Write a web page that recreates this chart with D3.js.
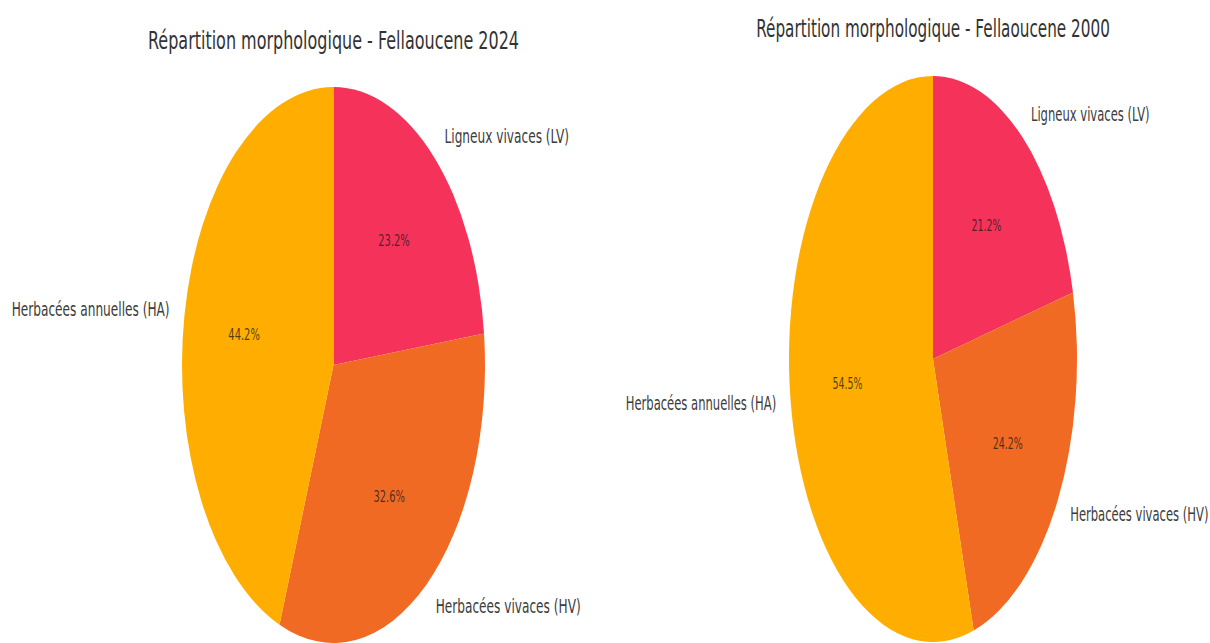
<!DOCTYPE html>
<html>
<head>
<meta charset="utf-8">
<script src="https://cdn.jsdelivr.net/npm/d3@7"></script>
<style>
  body { margin: 0; background: #fff; }
  svg { display: block; font-family: "DejaVu Sans", sans-serif; }
</style>
</head>
<body>
<svg id="chart" width="1210" height="643"></svg>
<script>
var categories = ["Ligneux vivaces (LV)", "Herbacées vivaces (HV)", "Herbacées annuelles (HA)"];
var values2024 = [23.2, 32.6, 44.2];
var values2000 = [21.2, 24.2, 54.5];
var titles = ["Répartition morphologique - Fellaoucene 2024", "Répartition morphologique - Fellaoucene 2000"];
var colors = ["#f5325a", "#f16a24", "#ffae00"];

// each pie is squashed, like the picture: own center, radii, text squeeze
var panels = [
    { values: values2024, title: titles[0], cx: 333.5, cy: 365, rx: 151.5, ry: 278, tsx: 0.64, titleY: 41 },
    { values: values2000, title: titles[1], cx: 933, cy: 359, rx: 144, ry: 283, tsx: 0.61, titleY: 29 }
];

var R = 100;
var svg = d3.select('#chart');
var pie = d3.pie().value(function (d) { return d; }).sort(null);
var arc = d3.arc().innerRadius(0).outerRadius(R);

function addText(g, x, y, sx, txt, size, anchor, fill) {
    g.append('g')
        .attr('transform', 'translate(' + x + ',' + y + ') scale(' + sx + ',1)')
        .append('text')
        .attr('text-anchor', anchor)
        .attr('dominant-baseline', 'central')
        .style('font-size', size + 'px')
        .attr('fill', fill)
        .text(txt);
}

panels.forEach(function (p) {
    var g = svg.append('g').attr('transform', 'translate(' + p.cx + ',' + p.cy + ')');
    var arcs = pie(p.values);

    g.append('g')
        .attr('transform', 'scale(' + (p.rx / R) + ',' + (p.ry / R) + ')')
        .selectAll('path')
        .data(arcs)
        .enter().append('path')
        .attr('d', arc)
        .attr('fill', function (d, i) { return colors[i]; });

    arcs.forEach(function (d, i) {
        var mid = (d.startAngle + d.endAngle) / 2;
        var sn = Math.sin(mid), cs = Math.cos(mid);
        // label outside at 1.1, percentage inside at 0.6
        addText(g, sn * 1.1 * p.rx, -cs * 1.1 * p.ry, p.tsx, categories[i], 19,
            sn >= 0 ? 'start' : 'end', '#3c3c3c');
        addText(g, sn * 0.6 * p.rx, -cs * 0.6 * p.ry, p.tsx, d.data.toFixed(1) + '%', 15.5,
            'middle', 'rgba(30,30,30,0.8)');
    });

    addText(svg, p.cx, p.titleY, p.tsx, p.title, 25, 'middle', '#333');
});
</script>
</body>
</html>
